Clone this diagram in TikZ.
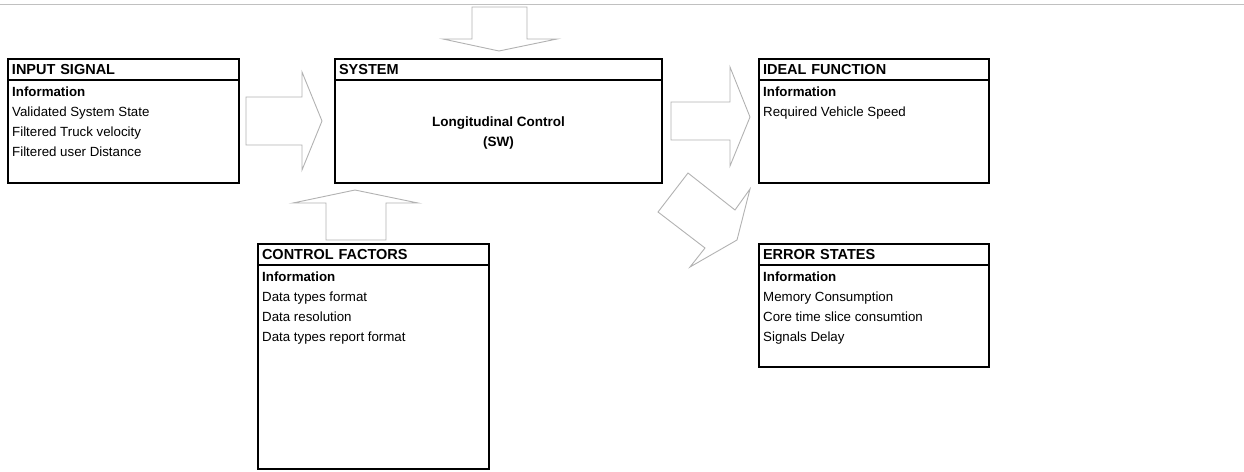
\documentclass[tikz,border=0pt]{standalone}
\usepackage{fontspec}
\setmainfont{Liberation Sans}
\usetikzlibrary{positioning}
\definecolor{arrowgray}{RGB}{178,178,178}
\definecolor{rulegray}{RGB}{192,192,192}
\tikzset{
  headbox/.style={
    rectangle, draw=black, line width=1.4pt, outer sep=0pt,
    minimum height=21pt, inner xsep=4pt, inner ysep=0pt,
    align=left, anchor=north west,
    font=\fontsize{14.5}{16}\selectfont\bfseries
  },
  bodybox/.style={
    rectangle, draw=black, line width=1.4pt, outer sep=0pt,
    inner sep=0pt, align=center,
    font=\fontsize{13.5}{20}\selectfont\bfseries
  },
  infotext/.style={
    anchor=north west, align=left, inner xsep=4pt, inner ysep=6.5pt,
    font=\fontsize{13.3}{20}\selectfont
  },
  blockarrow/.style={draw=arrowgray, line width=0.9pt, fill=white, line join=miter},
}
\begin{document}
\begin{tikzpicture}[x=1pt, y=-1pt]
  \useasboundingbox (0,0) rectangle (1244,471);

  % -- top rule --
  \draw[rulegray, line width=1pt] (0,4) -- (1244,4);

  % -- INPUT SIGNAL --
  \node[headbox, text width=223pt] (inHead) at (8,59) {INPUT SIGNAL};
  \node[bodybox, minimum width=231pt, minimum height=103pt, below=0pt of inHead] (inBody) {};
  \node[infotext] (inText) at (inBody.north west)
    {\textbf{Information}\\Validated System State\\Filtered Truck velocity\\Filtered user Distance};

  % -- SYSTEM --
  \node[headbox, text width=319pt] (sysHead) at (335,59) {SYSTEM};
  \node[bodybox, minimum width=327pt, minimum height=103pt, below=0pt of sysHead] (sysBody)
    {\rule{0pt}{12pt}Longitudinal Control\\(SW)};

  % -- IDEAL FUNCTION --
  \node[headbox, text width=222pt] (idealHead) at (759,59) {IDEAL FUNCTION};
  \node[bodybox, minimum width=230pt, minimum height=103pt, below=0pt of idealHead] (idealBody) {};
  \node[infotext] (idealText) at (idealBody.north west)
    {\textbf{Information}\\Required Vehicle Speed};

  % -- CONTROL FACTORS --
  \node[headbox, text width=223pt] (ctrlHead) at (258,244) {CONTROL FACTORS};
  \node[bodybox, minimum width=231pt, minimum height=204pt, below=0pt of ctrlHead] (ctrlBody) {};
  \node[infotext] (ctrlText) at (ctrlBody.north west)
    {\textbf{Information}\\Data types format\\Data resolution\\Data types report format};

  % -- ERROR STATES --
  \node[headbox, text width=222pt] (errHead) at (759,244) {ERROR STATES};
  \node[bodybox, minimum width=230pt, minimum height=102pt, below=0pt of errHead] (errBody) {};
  \node[infotext] (errText) at (errBody.north west)
    {\textbf{Information}\\Memory Consumption\\Core time slice consumtion\\Signals Delay};

  % -- block arrows --
  \draw[blockarrow] (246,97) -- (302,97) -- (302,72) -- (322,121) -- (302,170)
    -- (302,145) -- (246,145) -- cycle;
  \draw[blockarrow] (472,7) -- (527,7) -- (527,39) -- (557,39) -- (499,51)
    -- (443,39) -- (472,39) -- cycle;
  \draw[blockarrow] (671,102) -- (730,102) -- (730,67) -- (750,117) -- (730,166)
    -- (730,140) -- (671,140) -- cycle;
  \draw[blockarrow] (326,240) -- (326,203) -- (293,203) -- (355,190) -- (418,203)
    -- (386,203) -- (386,240) -- cycle;
  \draw[blockarrow] (688,173) -- (735,210) -- (750,189) -- (737,240) -- (690,267)
    -- (705,248) -- (658,212) -- cycle;

\end{tikzpicture}
\end{document}
